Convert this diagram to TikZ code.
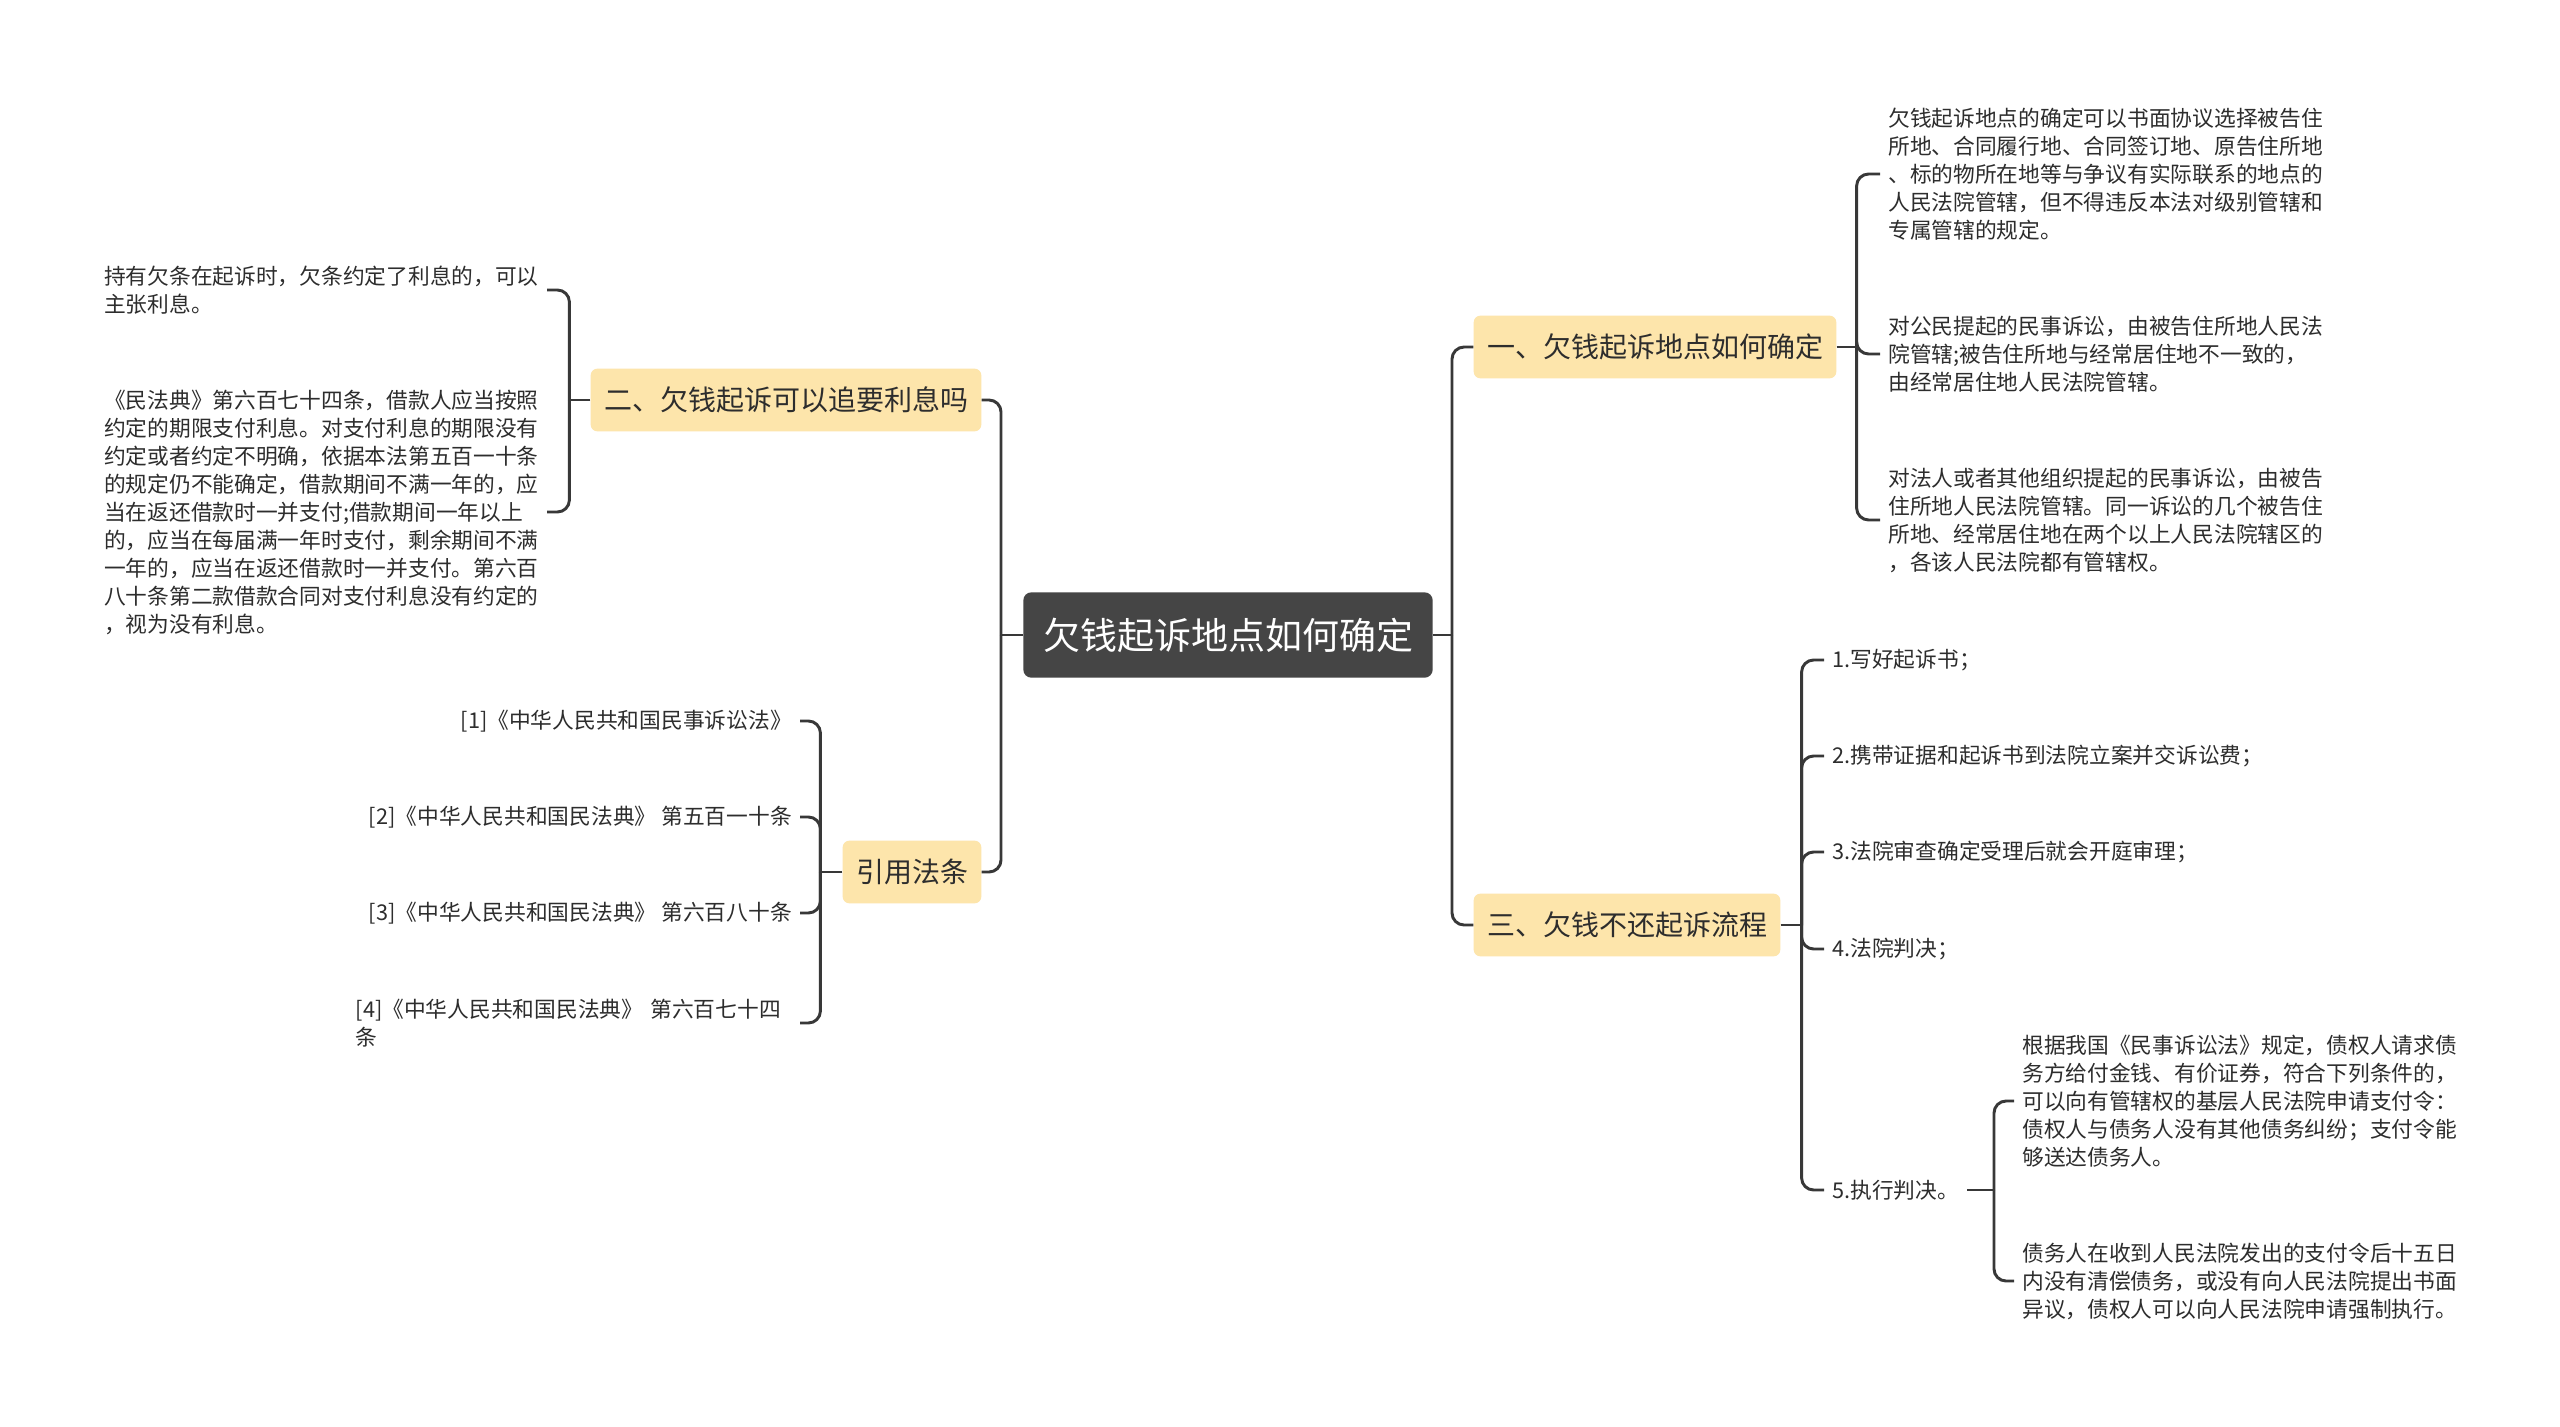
\documentclass[tikz,border=0pt]{standalone}
\usepackage{fontspec}
\setmainfont{Noto Sans CJK SC}
\usetikzlibrary{
    positioning,
    calc
}

\definecolor{rootfill}{RGB}{69,69,69}
\definecolor{topicfill}{RGB}{253,229,171}
\definecolor{linegray}{RGB}{56,56,56}
\definecolor{txt}{RGB}{45,45,45}

\newcommand{\leaffont}{\fontsize{16.3pt}{21pt}\selectfont}
\newcommand{\topicfont}{\fontsize{21pt}{25pt}\selectfont}
\newcommand{\rootfont}{\fontsize{27.75pt}{32pt}\selectfont}

\begin{document}
\begin{tikzpicture}[
    x=0.75pt, y=-0.75pt,
    root/.style={rectangle, rounded corners=6pt, fill=rootfill, text=white, font=\rootfont, minimum width=307pt, minimum height=64pt},
    topic/.style={rectangle, rounded corners=5pt, fill=topicfill, text=txt, font=\topicfont, inner xsep=10pt, minimum height=47pt},
    leaf/.style={font=\leaffont, text=txt, align=left, inner xsep=6pt, inner ysep=2pt},
    link/.style={draw=linegray, line width=2.2pt, rounded corners=9pt}
]
% Page
\fill[white] (0,0) rectangle (2560,1427);

% Root and main topics
\node[root] (root) at (1228,635) {欠钱起诉地点如何确定};
\node[topic] (t1) at (1655,347) {一、欠钱起诉地点如何确定};
\node[topic] (t2) at (786,400) {二、欠钱起诉可以追要利息吗};
\node[topic] (t3) at (1627,925) {三、欠钱不还起诉流程};
\node[topic] (t4) at (912,872) {引用法条};

% Trunk
\coordinate (jr) at (1452,635);
\coordinate (jl) at (1001,635);
\draw[link] (root.east) -- (jr);
\draw[link] (jr) |- (t1.west);
\draw[link] (jr) |- (t3.west);
\draw[link] (root.west) -- (jl);
\draw[link] (jl) |- (t2.east);
\draw[link] (jl) |- (t4.east);

% Topic one
\node[leaf, anchor=west] (a1) at (1880,174) {欠钱起诉地点的确定可以书面协议选择被告住\\所地、合同履行地、合同签订地、原告住所地\\、标的物所在地等与争议有实际联系的地点的\\人民法院管辖，但不得违反本法对级别管辖和\\专属管辖的规定。};
\node[leaf, anchor=west] (a2) at (1880,354) {对公民提起的民事诉讼，由被告住所地人民法\\院管辖;被告住所地与经常居住地不一致的，\\由经常居住地人民法院管辖。};
\node[leaf, anchor=west] (a3) at (1880,520) {对法人或者其他组织提起的民事诉讼，由被告\\住所地人民法院管辖。同一诉讼的几个被告住\\所地、经常居住地在两个以上人民法院辖区的\\，各该人民法院都有管辖权。};
\coordinate (j1) at ($(t1.east)+(20,0)$);
\draw[link] (t1.east) -- (j1);
\foreach \n in {a1,a2,a3}
    \draw[link] (j1) |- (\n.west);

% Topic two
\node[leaf, anchor=east] (b1) at (547,290) {持有欠条在起诉时，欠条约定了利息的，可以\\主张利息。};
\node[leaf, anchor=east] (b2) at (547,512) {《民法典》第六百七十四条，借款人应当按照\\约定的期限支付利息。对支付利息的期限没有\\约定或者约定不明确，依据本法第五百一十条\\的规定仍不能确定，借款期间不满一年的，应\\当在返还借款时一并支付;借款期间一年以上\\的，应当在每届满一年时支付，剩余期间不满\\一年的，应当在返还借款时一并支付。第六百\\八十条第二款借款合同对支付利息没有约定的\\，视为没有利息。};
\coordinate (j2) at ($(t2.west)+(-21,0)$);
\draw[link] (t2.west) -- (j2);
\foreach \n in {b1,b2}
    \draw[link] (j2) |- (\n.east);

% Topic three
\node[leaf, anchor=west] (c1) at (1824,660) {1.写好起诉书；};
\node[leaf, anchor=west] (c2) at (1824,756) {2.携带证据和起诉书到法院立案并交诉讼费；};
\node[leaf, anchor=west] (c3) at (1824,852) {3.法院审查确定受理后就会开庭审理；};
\node[leaf, anchor=west] (c4) at (1824,949) {4.法院判决；};
\node[leaf, anchor=west] (c5) at (1824,1190) {5.执行判决。};
\coordinate (j3) at ($(t3.east)+(21,0)$);
\draw[link] (t3.east) -- (j3);
\foreach \n in {c1,c2,c3,c4,c5}
    \draw[link] (j3) |- (\n.west);

% Step five
\node[leaf, anchor=west] (d1) at (2014,1101) {根据我国《民事诉讼法》规定，债权人请求债\\务方给付金钱、有价证券，符合下列条件的，\\可以向有管辖权的基层人民法院申请支付令：\\债权人与债务人没有其他债务纠纷；支付令能\\够送达债务人。};
\node[leaf, anchor=west] (d2) at (2014,1281) {债务人在收到人民法院发出的支付令后十五日\\内没有清偿债务，或没有向人民法院提出书面\\异议，债权人可以向人民法院申请强制执行。};
\coordinate (j5) at (1994,1190);
\draw[link] (c5.east) -- (j5);
\foreach \n in {d1,d2}
    \draw[link] (j5) |- (\n.west);

% Topic four
\node[leaf, anchor=east] (e1) at (800,721) {[1]《中华人民共和国民事诉讼法》};
\node[leaf, anchor=east] (e2) at (800,817) {[2]《中华人民共和国民法典》 第五百一十条};
\node[leaf, anchor=east] (e3) at (800,913) {[3]《中华人民共和国民法典》 第六百八十条};
\node[leaf, anchor=east, text width=327pt] (e4) at (800,1023) {[4]《中华人民共和国民法典》 第六百七十四\\条};
\coordinate (j4) at ($(t4.west)+(-22,0)$);
\draw[link] (t4.west) -- (j4);
\foreach \n in {e1,e2,e3,e4}
    \draw[link] (j4) |- (\n.east);
\end{tikzpicture}
\end{document}
